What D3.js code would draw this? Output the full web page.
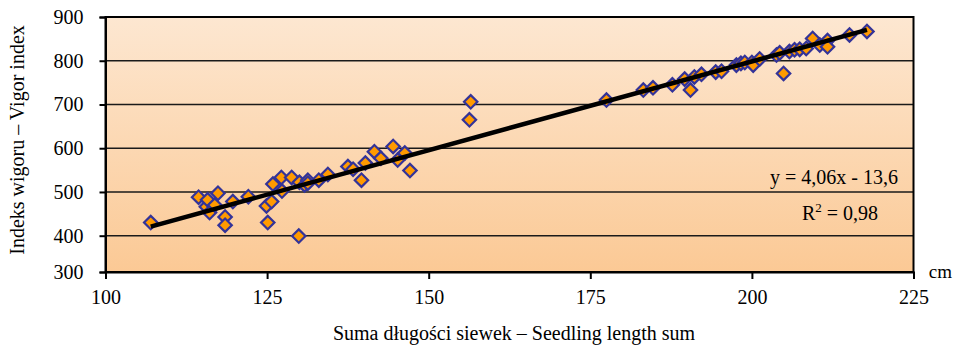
<!DOCTYPE html>
<html><head><meta charset="utf-8">
<script src="https://cdn.jsdelivr.net/npm/d3@7"></script>
<style>body{margin:0;background:#fff}svg{display:block}text{font-family:"Liberation Serif","Times New Roman",serif;fill:#000}</style>
</head><body><svg id="c" width="955" height="350"></svg>
<script>
const seedlingLength = [107.0,114.4,115.6,115.8,116.1,116.9,117.4,118.5,118.5,119.7,122.1,124.9,125.1,125.7,125.9,127.2,127.3,128.8,129.9,130.0,130.8,131.3,131.3,133.0,134.4,137.5,138.3,139.6,140.2,141.6,142.6,144.5,145.2,146.3,147.1,156.3,156.5,177.5,183.2,184.7,187.7,189.6,190.5,191.1,192.2,194.4,195.3,197.6,198.3,198.9,200.0,200.2,201.2,203.8,204.3,204.9,205.8,206.6,207.4,208.4,209.4,210.5,211.7,211.7,215.1,217.8];
const vigorIndex = [430,488,466,482,453,470,497,443,424,478,489,468,430,478,518,533,502,533,399,522,516,527,520,527,540,558,552,527,566,592,577,604,573,589,549,665,706,710,733,738,745,758,733,763,769,774,776,790,794,796,796,790,804,813,818,771,821,825,826,828,851,836,846,832,859,867];
const xTicks = [100,125,150,175,200,225];
const yTicks = [300,400,500,600,700,800,900];
const trendSlope = 4.06, trendIntercept = -13.6;
const equationLabel = "y = 4,06x - 13,6";
const r2Label = "0,98";
const xTitle = "Suma długości siewek – Seedling length sum";
const yTitle = "Indeks wigoru – Vigor index";
const xUnit = "cm";

const svg = d3.select("#c");
const L = 105.5, R = 913.5, T = 17, B = 272;
const x = d3.scaleLinear().domain([100,225]).range([L,R]);
const y = d3.scaleLinear().domain([300,400,900]).range([B,235.7,T]);

const defs = svg.append("defs");
const g = defs.append("linearGradient").attr("id","bg").attr("x1",0).attr("y1",0).attr("x2",0).attr("y2",1);
g.append("stop").attr("offset","0%").attr("stop-color","#fde7d1");
g.append("stop").attr("offset","100%").attr("stop-color","#fbc995");
svg.append("rect").attr("x",L).attr("y",T).attr("width",R-L).attr("height",B-T).attr("fill","url(#bg)");

// gridlines
svg.append("g").selectAll("line").data(yTicks.filter(d=>d>300&&d<900)).join("line")
  .attr("x1",L).attr("x2",R).attr("y1",d=>y(d)).attr("y2",d=>y(d))
  .attr("stroke","#1a1a1a").attr("stroke-width",1.5);

// border
svg.append("rect").attr("x",L).attr("y",T).attr("width",R-L).attr("height",B-T)
  .attr("fill","none").attr("stroke","#000").attr("stroke-width",2);

// axes
const ya = svg.append("g").attr("transform",`translate(${L},0)`)
  .call(d3.axisLeft(y).tickValues(yTicks).tickSize(6).tickPadding(16).tickFormat(d3.format("d")));
const xa = svg.append("g").attr("transform",`translate(0,${B})`)
  .call(d3.axisBottom(x).tickValues(xTicks).tickSize(7).tickPadding(11).tickFormat(d3.format("d")));
[ya,xa].forEach(a=>{
  a.attr("font-family",null);
  a.select(".domain").attr("stroke","#000").attr("stroke-width",2);
  a.selectAll(".tick line").attr("stroke","#000").attr("stroke-width",2);
  a.selectAll("text").attr("font-family","Liberation Serif").attr("font-size",20).attr("fill","#000");
});

// points
const pts = seedlingLength.map((v,i)=>[v,vigorIndex[i]]);
svg.append("g").selectAll("path").data(pts).join("path")
  .attr("d",d3.symbol(d3.symbolSquare, 90))
  .attr("transform",d=>`translate(${x(d[0])},${y(d[1])}) rotate(45)`)
  .attr("fill","#ff9a00").attr("stroke","#333399").attr("stroke-width",2.2);

// trend line over points
const xs = d3.extent(seedlingLength);
svg.append("line")
  .attr("x1",x(xs[0])).attr("y1",y(trendSlope*xs[0]+trendIntercept))
  .attr("x2",x(xs[1])).attr("y2",y(trendSlope*xs[1]+trendIntercept))
  .attr("stroke","#000").attr("stroke-width",4.5);

// labels
svg.append("text").attr("x",898).attr("y",184).attr("text-anchor","end").attr("font-size",20).text(equationLabel);
const r2 = svg.append("text").attr("x",878).attr("y",220).attr("text-anchor","end").attr("font-size",20);
r2.append("tspan").text("R");
r2.append("tspan").attr("dy",-8).attr("font-size",13).text("2");
r2.append("tspan").attr("dy",8).text(" = " + r2Label);

svg.append("text").attr("x",952).attr("y",278).attr("text-anchor","end").attr("font-size",19).text(xUnit);
svg.append("text").attr("x",514).attr("y",340).attr("text-anchor","middle").attr("font-size",20).text(xTitle);
svg.append("text").attr("transform","translate(24,140) rotate(-90)").attr("text-anchor","middle").attr("font-size",20).text(yTitle);
</script></body></html>
